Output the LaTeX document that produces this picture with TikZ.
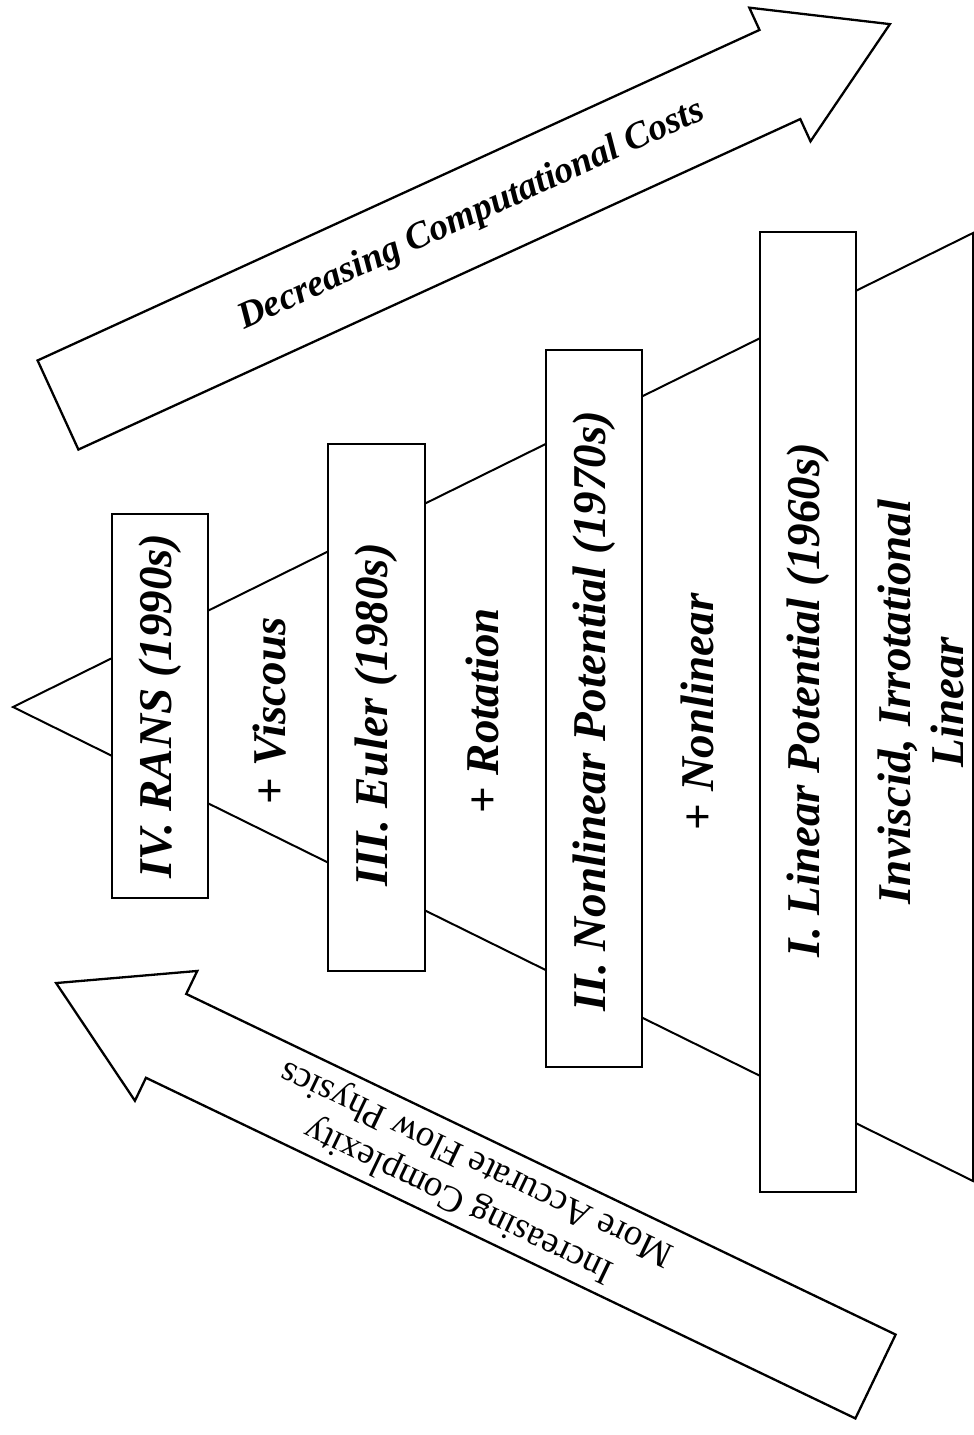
\documentclass[tikz,border=0pt]{standalone}
\usepackage{fontspec}
\setmainfont{Liberation Serif}
\begin{document}
\begin{tikzpicture}[x=1pt,y=-1pt,
  tri/.style={draw, line width=2pt, line join=miter},
  era/.style={draw, fill=white, line width=2.6pt, inner sep=0pt},
  boxlabel/.style={font=\fontsize{47}{53}\selectfont\bfseries\itshape, rotate=90, inner sep=0pt},
  bigarrow/.style={draw, fill=white, line width=2.3pt, line join=miter},
  costlabel/.style={font=\fontsize{37.5}{44}\selectfont\bfseries\itshape, inner sep=0pt},
  physlabel/.style={font=\fontsize{37}{42}\selectfont, inner sep=0pt, align=center}]
\useasboundingbox (0,0) rectangle (974,1435);
\fill[white] (0,0) rectangle (974,1435);

% pyramid
\draw[tri] (13,707) -- (973,233) -- (973,1181) -- cycle;

% era boxes
\node[era, minimum width=96pt, minimum height=384pt] (b4) at (160,706) {};
\node[era, minimum width=97pt, minimum height=527pt] (b3) at (376.5,707.5) {};
\node[era, minimum width=96pt, minimum height=717pt] (b2) at (594,708.5) {};
\node[era, minimum width=96pt, minimum height=960pt] (b1) at (808,712) {};

\node[boxlabel] (t4) at (160,706) {IV. RANS (1990s)};
\node[boxlabel] (t3) at (376.5,715) {III. Euler (1980s)};
\node[boxlabel] (t2) at (594,711) {II. Nonlinear Potential (1970s)};
\node[boxlabel] (t1) at (808,700) {I. Linear Potential (1960s)};

\node[boxlabel] (a3) at (270,711) {\textup{+} Viscous};
\node[boxlabel] (a2) at (482,711) {\textup{+} Rotation};
\node[boxlabel] (a1) at (697,712) {\textup{+} Nonlinear};
\node[boxlabel, align=center] (base) at (921,702) {Inviscid, Irrotational\\Linear};

% decreasing cost arrow
\begin{scope}[shift={(58,405)}, rotate=24.6]
  \draw[bigarrow] (0,-49) -- (794,-49) -- (794,-73.5) -- (915,0) -- (794,73.5) -- (794,49) -- (0,49) -- cycle;
  \node[costlabel, rotate=24.6] (cost) at (455,0) {Decreasing Computational Costs};
\end{scope}

% increasing complexity arrow
\begin{scope}[shift={(875.5,1376.5)}, rotate=154.35]
  \draw[bigarrow] (0,-46.5) -- (787,-46.5) -- (787,-72) -- (909,0) -- (787,72) -- (787,46.5) -- (0,46.5) -- cycle;
  \node[physlabel, rotate=154.35] (phys) at (452,0) {Increasing Complexity\\More Accurate Flow Physics};
\end{scope}
\end{tikzpicture}
\end{document}
